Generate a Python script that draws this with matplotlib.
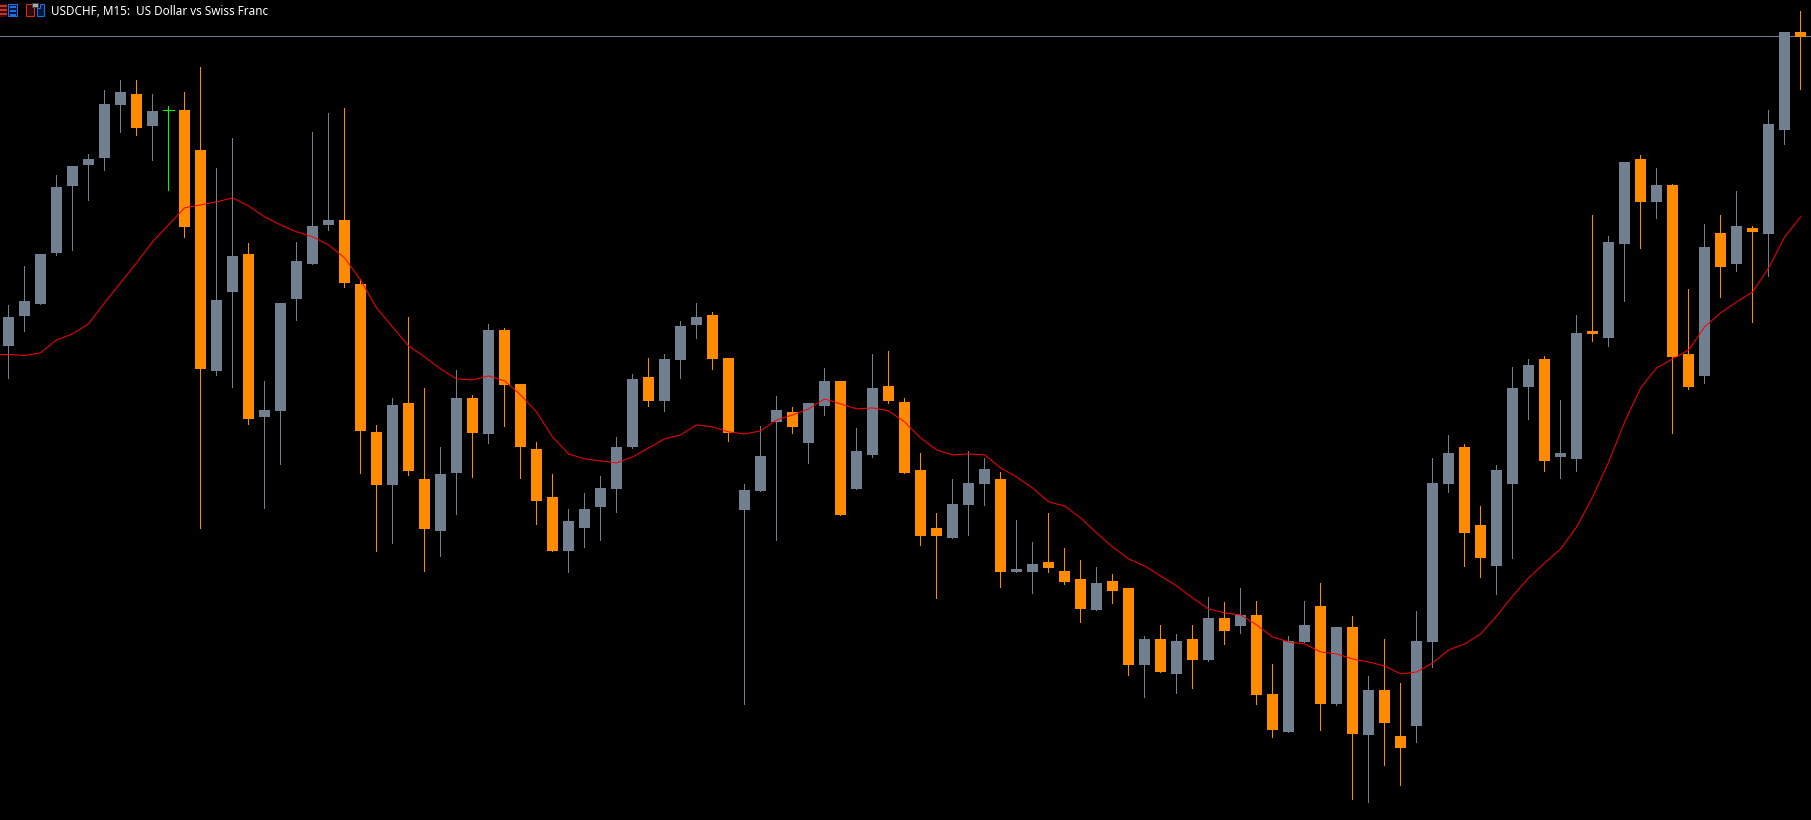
import numpy as np
import matplotlib
matplotlib.use("Agg")
import matplotlib.pyplot as plt
from matplotlib.patches import Rectangle, Polygon

TITLE = "USDCHF, M15:  US Dollar vs Swiss Franc"

# Quotes, in points (0.00001) below the 0.90000 level
REFERENCE = 0.90000
POINT = 0.00001
LAST_LINE = 36.5

open_pts = [346,316,304,253,186,165,158,105,94,126,110,110,150,371,292,254,417,411,299,264,225,220,284,432,485,403,479,531,473,398,434,330,384,449,497,551,528,507,489,447,377,401,360,325,315,358,510,491,422,412,443,406,381,489,455,386,402,470,528,538,505,484,479,572,572,562,571,579,610,581,588,665,639,674,639,660,618,626,615,694,732,642,606,704,627,735,690,736,726,642,484,447,525,566,484,387,359,457,459,331,338,244,159,202,185,354,376,233,264,228,234,130,32]
high_pts = [305,266,254,175,166,154,90,80,80,94,106,92,67,168,138,243,381,303,242,132,113,108,279,425,398,317,388,447,370,395,324,328,384,442,474,509,493,476,437,374,358,354,321,303,312,358,484,426,396,407,403,368,381,428,354,351,398,453,513,479,451,458,472,520,542,513,548,560,567,574,588,636,625,634,625,597,602,588,601,664,636,601,583,627,616,676,639,683,611,458,435,444,506,465,367,359,356,400,315,215,236,162,155,168,184,289,224,215,191,226,110,32,11]
low_pts = [378,331,304,255,250,200,170,132,135,160,190,237,528,375,387,424,508,464,320,264,230,287,473,551,543,475,571,556,514,477,443,426,478,524,551,572,547,540,512,448,406,411,378,338,369,441,704,491,540,433,463,415,515,489,457,403,473,545,598,538,535,505,587,572,593,572,584,622,610,603,675,697,672,693,688,661,644,633,704,737,732,642,730,705,799,802,765,785,742,667,492,566,577,594,558,419,471,478,471,341,346,301,248,218,433,389,383,297,271,322,276,144,89]
close_pts = [317,301,254,187,166,159,104,92,128,111,110,227,369,300,256,419,410,303,261,226,220,283,431,485,405,471,529,474,398,433,330,385,447,501,551,521,509,488,447,379,401,359,326,317,359,433,490,456,410,427,403,381,515,451,388,401,473,536,536,504,483,469,572,569,564,568,582,609,583,591,665,639,672,641,660,618,631,615,695,730,641,625,704,627,734,690,723,748,641,483,453,533,558,470,388,365,461,453,333,334,242,162,202,185,357,387,247,267,226,232,124,32,37]

# Moving average: starts one bar before the first visible candle
ma_pts = [354.5,354.7,355.5,353,340,334,324,303,283,263,242,225,208,205,202,198,206,217,225,232,237,245,258,280,
          308,327,346,357,369,379,380,376,381,395,412,437,454,459,461,463,457,448,439,435,425,427,432,434,431,
          420,415,409,399,404,409,408,411,422,438,450,455,454,455,468,477,488,502,506,518,533,547,559,566,576,
          586,598,609,613,615,625,637,642,644,652,654,659,662,666,674,672,663,650,644,634,616,596,578,563,549,
          527,497,462,422,388,368,359,350,327,313,302,292,268,237,217]

UP_COLOR = "#708090"
DOWN_COLOR = "#FF8C00"
DOJI_COLOR = "#00FF00"
MA_COLOR = "#FF0000"
LAST_COLOR = "#708090"
BG = "#000000"
W, H = 1811, 820

def price(p):
    return REFERENCE - np.asarray(p, dtype=float) * POINT

o, h, l, c = map(price, (open_pts, high_pts, low_pts, close_pts))
n = len(o)
idx = np.arange(n)

fig = plt.figure(figsize=((W + 0.2) / 100, (H + 0.2) / 100), dpi=100, facecolor=BG)
ax = fig.add_axes([0, 0, 1, 1], facecolor=BG)
ax.set_xlim(-8.5 / 16, (W - 8.5) / 16)
ax.set_ylim(float(price(H)), float(price(0)))
ax.axis("off")

ax.axhline(float(price(LAST_LINE)), color=LAST_COLOR, lw=0.72, antialiased=False, zorder=1)

colors = [DOJI_COLOR if o[i] == c[i] else (UP_COLOR if c[i] > o[i] else DOWN_COLOR) for i in idx]
wick_x = idx - 0.4 / 16
ax.vlines(wick_x, l, h, colors=colors, lw=0.72, antialiased=False, zorder=2)
body = np.array([i for i in idx if o[i] != c[i]])
ax.bar(body, np.abs(c[body] - o[body]), bottom=np.minimum(o[body], c[body]), width=11 / 16,
       color=[colors[i] for i in body], linewidth=0, antialiased=False, zorder=3)
doji = [i for i in idx if o[i] == c[i]]
ax.hlines(o[doji], np.array(doji) - 5.5 / 16, np.array(doji) + 5.5 / 16, colors=DOJI_COLOR,
          lw=0.72, antialiased=False, zorder=3)

ax.plot(np.arange(-1, n), price(ma_pts), color=MA_COLOR, lw=0.72, antialiased=True, zorder=4)

# Window header: title and the two small toolbar icons, placed in figure pixels
fig.text(50.5 / W, 1 - 11.5 / H, TITLE, color="white", fontsize=8.42, family="Noto Sans", va="center", ha="left")

def px(x, y, w, hh, **kw):
    fig.add_artist(Rectangle((x / W, 1 - (y + hh) / H), w / W, hh / H, transform=fig.transFigure,
                             antialiased=False, **kw))

def poly(pts, **kw):
    fig.add_artist(Polygon([(x / W, 1 - y / H) for x, y in pts], closed=True, transform=fig.transFigure, **kw))

RED, BLUE = "#C9302C", "#1F6FE0"
# first icon
px(0, 4, 7, 13, fc="#3A0D0B", ec="none")
px(0, 5, 7, 2, fc=RED, ec="none"); px(0, 9, 7, 2, fc=RED, ec="none"); px(0, 13, 7, 2, fc=RED, ec="none")
px(7.5, 4.5, 9, 12, fc="#04163C", ec=BLUE, lw=0.7)
px(10, 6, 6, 2, fc=BLUE, ec="none"); px(10, 10, 6, 2, fc=BLUE, ec="none"); px(10, 14, 6, 2, fc=BLUE, ec="none")
# second icon
poly([(25.5, 4.5), (33.5, 4.5), (33.5, 16.5), (25.5, 16.5)], fc="#2E0A09", ec=RED, lw=0.8)
poly([(36.5, 8.5), (39.5, 8.5), (39.5, 4.5), (43.5, 4.5), (43.5, 16.5), (36.5, 16.5)], fc="#04163C", ec=BLUE, lw=0.8)
px(31.5, 3.5, 6, 4, fc="#A8A8A8", ec="#444444", lw=0.5)

fig.savefig("out.png", dpi=100, facecolor=BG)
